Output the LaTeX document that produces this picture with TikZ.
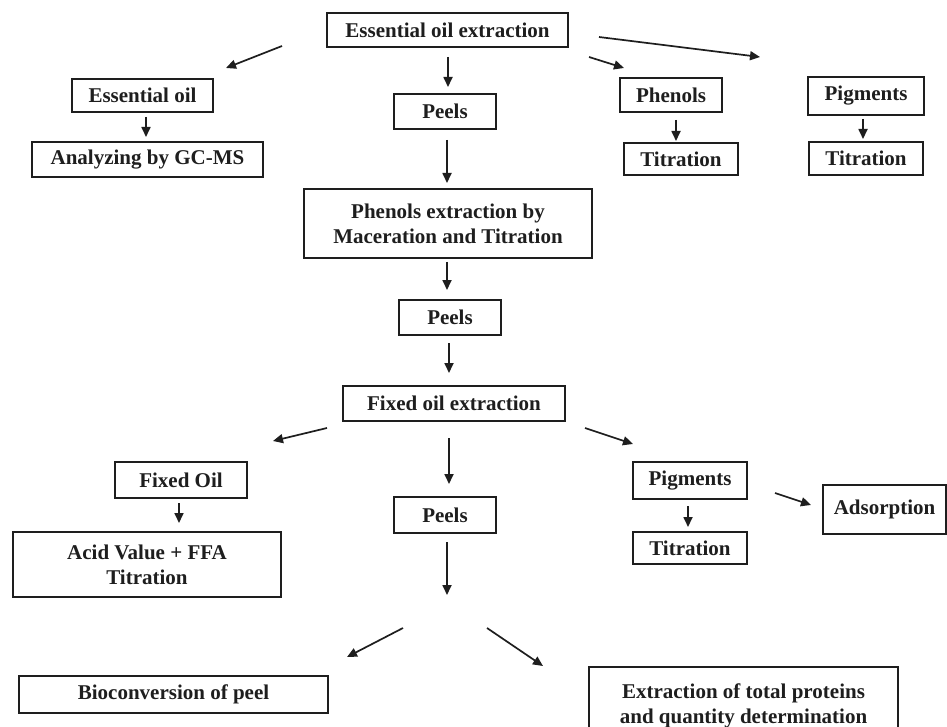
\documentclass[tikz,border=0pt]{standalone}
\usepackage{fontspec}
\setmainfont{Liberation Serif}
\usetikzlibrary{arrows.meta}
\definecolor{ink}{HTML}{1E1E1E}
\tikzset{
  box/.style={draw=ink, line width=1.7pt, rectangle, inner sep=0pt, align=center,
    text=ink, font=\fontsize{21}{25}\selectfont\bfseries},
  arr/.style={draw=ink, line width=1.7pt, -{Triangle[length=10pt,width=9pt]}}
}
\newcommand\flowbox[6]{\node[box, minimum width=#4pt, minimum height=#5pt] (#1) at (#2,#3) {#6};}
\newcommand\flowarrow[3]{\coordinate (#1s) at (#2); \coordinate (#1e) at (#3); \draw[arr] (#1s) -- (#1e);}
\begin{document}
\begin{tikzpicture}[x=1pt,y=-1pt]
\clip (0,0) rectangle (947,727);
\fill[white] (0,0) rectangle (947,727);
% boxes
\flowbox{eoe}{447.5}{30}{241}{34}{Essential oil extraction}
\flowbox{eo}{142.5}{95.5}{141}{33}{Essential oil}
\flowbox{gcms}{147.5}{159.5}{231}{35}{Analyzing by GC-MS}
\flowbox{peelsa}{445}{111.5}{102}{35}{Peels}
\flowbox{phen}{671}{95}{102}{34}{Phenols}
\flowbox{tita}{681}{159}{114}{32}{Titration}
\flowbox{piga}{866}{96}{116}{38}{Pigments}
\flowbox{titb}{866}{158.5}{114}{33}{Titration}
\flowbox{phex}{448}{223.5}{288}{69}{Phenols extraction by\\Maceration and Titration}
\flowbox{peelsb}{450}{317.5}{102}{35}{Peels}
\flowbox{foe}{454}{403.5}{222}{35}{Fixed oil extraction}
\flowbox{fo}{181}{480}{132}{36}{Fixed Oil}
\flowbox{acid}{147}{564.5}{268}{65}{Acid Value + FFA\\Titration}
\flowbox{peelsc}{445}{515}{102}{36}{Peels}
\flowbox{bio}{173.5}{694.5}{309}{37}{Bioconversion of peel}
\flowbox{pigb}{690}{480.5}{114}{37}{Pigments}
\flowbox{titc}{690}{548}{114}{32}{Titration}
\flowbox{ads}{884.5}{509.5}{123}{49}{Adsorption}
\flowbox{prot}{743.5}{706}{309}{78}{Extraction of total proteins\\and quantity determination}
% arrows
\flowarrow{a1}{282,46}{226,68}
\flowarrow{a2}{448,57}{448,87}
\flowarrow{a3}{146,117}{146,137}
\flowarrow{a4}{447,140}{447,183}
\flowarrow{a5}{599,37}{760,57}
\flowarrow{a6}{589,57}{624,68}
\flowarrow{a7}{676,120}{676,141}
\flowarrow{a8}{863,119}{863,139}
\flowarrow{a9}{447,262}{447,290}
\flowarrow{a10}{449,343}{449,373}
\flowarrow{a11}{327,428}{273,441}
\flowarrow{a12}{449,438}{449,484}
\flowarrow{a13}{179,503}{179,523}
\flowarrow{a14}{447,542}{447,595}
\flowarrow{a15}{403,628}{347,657}
\flowarrow{a16}{487,628}{543,666}
\flowarrow{a17}{585,428}{633,444}
\flowarrow{a18}{688,506}{688,527}
\flowarrow{a19}{775,493}{811,505}
\end{tikzpicture}
\end{document}
